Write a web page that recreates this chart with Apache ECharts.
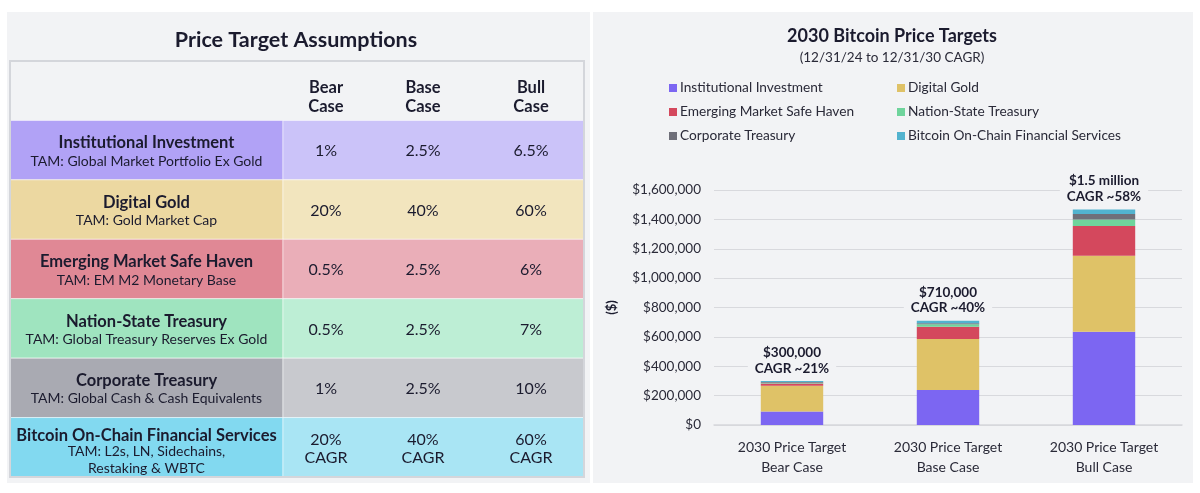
<!DOCTYPE html>
<html>
<head>
<meta charset="utf-8">
<script src="https://cdn.jsdelivr.net/npm/echarts@6/dist/echarts.min.js"></script>
<style>
html,body{margin:0;padding:0;background:#ffffff;}
#chart{width:1200px;height:493px;}
</style>
</head>
<body>
<div id="chart"></div>
<script>
// ---------- DATA ----------
const categories = ['2030 Price Target\nBear Case', '2030 Price Target\nBase Case', '2030 Price Target\nBull Case'];
const seriesNames = ['Institutional Investment', 'Digital Gold', 'Emerging Market Safe Haven', 'Nation-State Treasury', 'Corporate Treasury', 'Bitcoin On-Chain Financial Services'];
const institutional = [92000, 238000, 635000];
const digitalGold = [176000, 347000, 517000];
const emergingMarket = [14000, 84000, 203000];
const nationState = [6000, 17000, 45000];
const corporate = [4000, 7000, 36000];
const onChain = [8000, 17000, 32000];
const totalLabels = ['$300,000', '$710,000', '$1.5 million'];
const cagrLabels = ['CAGR ~21%', 'CAGR ~40%', 'CAGR ~58%'];
const yMin = 0, yMax = 1600000, yStep = 200000;

const tableRows = ['Institutional Investment', 'Digital Gold', 'Emerging Market Safe Haven', 'Nation-State Treasury', 'Corporate Treasury', 'Bitcoin On-Chain Financial Services'];
const tableTAM = ['TAM: Global Market Portfolio Ex Gold', 'TAM: Gold Market Cap', 'TAM: EM M2 Monetary Base', 'TAM: Global Treasury Reserves Ex Gold', 'TAM: Global Cash & Cash Equivalents', 'TAM: L2s, LN, Sidechains,\nRestaking & WBTC'];
const caseHeaders = ['Bear\nCase', 'Base\nCase', 'Bull\nCase'];
const bearCase = ['1%', '20%', '0.5%', '0.5%', '1%', '20%\nCAGR'];
const baseCase = ['2.5%', '40%', '2.5%', '2.5%', '2.5%', '40%\nCAGR'];
const bullCase = ['6.5%', '60%', '6%', '7%', '10%', '60%\nCAGR'];

// ---------- STYLE ----------
const FONT = 'Lato, "Noto Sans", sans-serif';
const INK = '#1b1b2e';
const PANEL = '#f2f3f5';
const barColors = ['#7c66f2', '#dfc267', '#d4485d', '#6fd49c', '#6f6f79', '#52b3cf'];
const labelCellColors = ['#b1a2f6', '#ecd8a1', '#e08895', '#9fe4bf', '#a9aab2', '#82d9f0'];
const valueCellColors = ['#cbc3f9', '#f2e5be', '#eaaeb8', '#bdeed5', '#c8c9ce', '#a9e5f4'];
const colFrac = { divider: 0.4756, label: 0.2378, cases: [0.5505, 0.7195, 0.9077] };

const valueCols = [bearCase, baseCase, bullCase];
const seriesData = [institutional, digitalGold, emergingMarket, nationState, corporate, onChain];

const chart = echarts.init(document.getElementById('chart'), null, { renderer: 'canvas' });

function txt(text, x, y, font, lh) {
  return {
    type: 'text',
    style: { text: text, x: x, y: y, font: font, fill: INK, align: 'center', verticalAlign: 'middle', lineHeight: lh || 18 }
  };
}

function renderTable(params, api) {
  const i = api.value(1);
  const p0 = api.coord([0, i]);
  const p1 = api.coord([1, i]);
  const h = api.size([0, 1])[1];
  const x0 = p0[0], x1 = p1[0], yc = p0[1];
  const top = yc - h / 2;
  const W = x1 - x0;
  const xDiv = x0 + W * colFrac.divider;
  const children = [];
  if (i === 0) {
    children.push({ type: 'rect', shape: { x: x0, y: top, width: W, height: h * 7 }, style: { fill: 'none', stroke: '#d4d6db', lineWidth: 2 }, z2: 20 });
    caseHeaders.forEach(function (t, k) {
      children.push(txt(t, x0 + W * colFrac.cases[k], yc + 6, 'bold 16.5px ' + FONT, 19));
    });
  } else {
    const r = i - 1;
    children.push({ type: 'rect', shape: { x: x0, y: top, width: xDiv - x0, height: h }, style: { fill: labelCellColors[r], stroke: 'rgba(255,255,255,0.5)', lineWidth: 1 } });
    children.push({ type: 'rect', shape: { x: xDiv, y: top, width: x1 - xDiv, height: h }, style: { fill: valueCellColors[r], stroke: 'rgba(255,255,255,0.5)', lineWidth: 1 } });
    const lastRow = tableTAM[r].indexOf('\n') >= 0;
    const nameY = lastRow ? yc - 12 : yc - 7;
    const tamY = lastRow ? yc + 13 : yc + 11;
    children.push(txt(tableRows[r], x0 + W * colFrac.label, nameY, 'bold 16.5px ' + FONT));
    children.push(txt(tableTAM[r], x0 + W * colFrac.label, tamY, '14px ' + FONT, 17));
    valueCols.forEach(function (col, k) {
      children.push(txt(col[r], x0 + W * colFrac.cases[k], yc + (lastRow ? 2 : 1), '16px ' + FONT, 18));
    });
  }
  return { type: 'group', children: children };
}

const series = seriesNames.map(function (name, s) {
  const o = {
    name: name,
    type: 'bar',
    stack: 'total',
    xAxisIndex: 0,
    yAxisIndex: 0,
    barWidth: '40%',
    data: seriesData[s],
    itemStyle: { color: barColors[s] },
    emphasis: { disabled: true }
  };
  if (s === seriesNames.length - 1) {
    o.label = {
      show: true,
      position: 'top',
      distance: 5,
      formatter: function (p) { return '{a|' + totalLabels[p.dataIndex] + '}\n{a|' + cagrLabels[p.dataIndex] + '}'; },
      backgroundColor: PANEL,
      padding: [0, 7, 0, 7],
      rich: { a: { fontFamily: FONT, fontWeight: 'bold', fontSize: 13.5, lineHeight: 15.5, color: INK, align: 'center' } }
    };
  }
  return o;
});

series.push({
  type: 'custom',
  xAxisIndex: 1,
  yAxisIndex: 1,
  clip: false,
  silent: true,
  renderItem: renderTable,
  encode: { x: 0, y: 1 },
  data: [0, 1, 2, 3, 4, 5, 6].map(function (i) { return [0, i]; }),
  z: 5
});

const legendBase = {
  orient: 'vertical',
  icon: 'rect',
  itemWidth: 8,
  itemHeight: 8,
  itemGap: 10,
  textStyle: { fontFamily: FONT, fontSize: 13.7, color: '#2a2a38', padding: [0, 0, 0, -2] }
};

const option = {
  backgroundColor: '#ffffff',
  animation: false,
  color: barColors,
  graphic: [
    { type: 'rect', z: -10, shape: { x: 7, y: 12, width: 583, height: 471 }, style: { fill: PANEL } },
    { type: 'rect', z: -10, shape: { x: 593, y: 12, width: 600, height: 471 }, style: { fill: PANEL } }
  ],
  title: [
    { text: 'Price Target Assumptions', left: 291, top: 24, textAlign: 'center',
      textStyle: { fontFamily: FONT, fontSize: 21.5, fontWeight: 'bold', color: INK } },
    { text: '2030 Bitcoin Price Targets', subtext: '(12/31/24 to 12/31/30 CAGR)', left: 887, top: 22, textAlign: 'center', itemGap: 6,
      textStyle: { fontFamily: FONT, fontSize: 18, fontWeight: 'bold', color: INK },
      subtextStyle: { fontFamily: FONT, fontSize: 13.5, color: '#2a2a38' } }
  ],
  legend: [
    Object.assign({}, legendBase, { left: 664, top: 76, data: [seriesNames[0], seriesNames[2], seriesNames[4]] }),
    Object.assign({}, legendBase, { left: 892, top: 76, data: [seriesNames[1], seriesNames[3], seriesNames[5]] })
  ],
  grid: [
    { left: 714, top: 190, width: 468, height: 235, containLabel: false },
    { left: 10, top: 61, width: 574, height: 416, containLabel: false }
  ],
  xAxis: [
    { type: 'category', gridIndex: 0, data: categories,
      axisLine: { show: true, lineStyle: { color: '#d6d7db', width: 1.5 } },
      axisTick: { show: false },
      axisLabel: { fontFamily: FONT, fontSize: 14, color: '#2a2a38', lineHeight: 20, margin: 12 } },
    { type: 'value', gridIndex: 1, min: 0, max: 1, show: false }
  ],
  yAxis: [
    { type: 'value', gridIndex: 0, min: yMin, max: yMax, interval: yStep,
      name: '($)', nameLocation: 'middle', nameRotate: 90, nameGap: 96,
      nameTextStyle: { fontFamily: FONT, fontSize: 13, fontWeight: 'bold', color: INK },
      axisLine: { show: false }, axisTick: { show: false },
      axisLabel: { fontFamily: FONT, fontSize: 13.5, color: '#2a2a38', margin: 13,
        formatter: function (v) { return '$' + v.toLocaleString('en-US'); } },
      splitLine: { lineStyle: { color: '#d8d9dd', width: 1 } } },
    { type: 'category', gridIndex: 1, inverse: true, show: false,
      data: ['header'].concat(tableRows) }
  ],
  series: series
};

chart.setOption(option);
</script>
</body>
</html>
